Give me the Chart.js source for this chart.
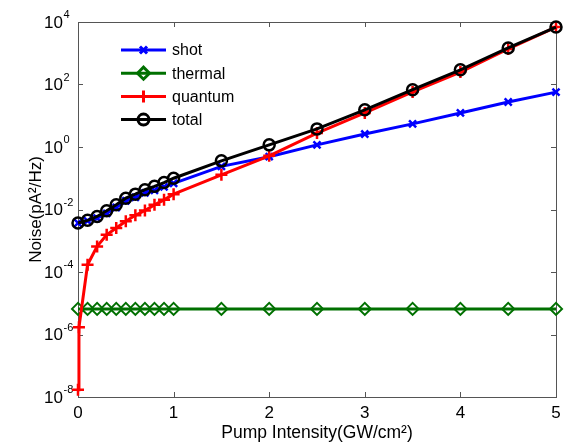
<!DOCTYPE html>
<html>
<head>
<meta charset="utf-8">
<script src="https://cdn.jsdelivr.net/npm/chart.js@4.4.0/dist/chart.umd.min.js"></script>
<style>
html, body { margin: 0; padding: 0; background: #fff; }
</style>
</head>
<body>
<canvas id="chart" width="576" height="447"></canvas>
<script>
const pumpX = [0, 0.1, 0.2, 0.3, 0.4, 0.5, 0.6, 0.7, 0.8, 0.9, 1.0, 1.5, 2, 2.5, 3, 3.5, 4, 4.5, 5];
const quantumX = [0, 0.01, 0.1, 0.2, 0.3, 0.4, 0.5, 0.6, 0.7, 0.8, 0.9, 1.0, 1.5, 2, 2.5, 3, 3.5, 4, 4.5, 5];

const shotNoise = [3.7e-3, 4.3e-3, 5.3e-3, 7.5e-3, 1.16e-2, 1.9e-2, 2.45e-2, 3.4e-2, 4.1e-2, 5.3e-2, 6.9e-2, 0.24, 0.49, 1.17, 2.6, 5.5, 12.3, 27.5, 57];
const thermalNoise = [6.6e-6, 6.6e-6, 6.6e-6, 6.6e-6, 6.6e-6, 6.6e-6, 6.6e-6, 6.6e-6, 6.6e-6, 6.6e-6, 6.6e-6, 6.6e-6, 6.6e-6, 6.6e-6, 6.6e-6, 6.6e-6, 6.6e-6, 6.6e-6, 6.6e-6];
const quantumNoise = [1.7e-8, 1.7e-6, 1.7e-4, 6.6e-4, 1.55e-3, 2.55e-3, 4.2e-3, 6.5e-3, 9.3e-3, 1.41e-2, 2.04e-2, 3.1e-2, 0.129, 0.52, 2.8, 12.3, 58, 250, 1370, 6900];
const totalNoise = [3.7e-3, 4.5e-3, 6.0e-3, 9.1e-3, 1.42e-2, 2.3e-2, 3.1e-2, 4.3e-2, 5.5e-2, 7.3e-2, 0.10, 0.36, 1.17, 3.8, 15.5, 68, 295, 1480, 6900];

const xTicks = [0, 1, 2, 3, 4, 5];
const yTicks = [1e-8, 1e-6, 1e-4, 1e-2, 1, 1e2, 1e4];

const FONT = "'Liberation Sans', Arial, sans-serif";

function pts(xs, ys) {
    return xs.map((x, i) => ({ x: x, y: ys[i] }));
}

// box, inward tick marks and 10^n tick labels
const frame = {
    id: 'frame',
    beforeDatasetsDraw(chart) {
        const { ctx, chartArea: a, scales } = chart;
        ctx.save();
        ctx.strokeStyle = '#555555';
        ctx.lineWidth = 1;
        ctx.strokeRect(a.left + 0.5, a.top + 0.5, a.right - a.left, a.bottom - a.top);
        ctx.beginPath();
        xTicks.forEach(v => {
            const px = Math.round(scales.x.getPixelForValue(v)) + 0.5;
            ctx.moveTo(px, a.bottom); ctx.lineTo(px, a.bottom - 5);
            ctx.moveTo(px, a.top); ctx.lineTo(px, a.top + 5);
        });
        yTicks.forEach(v => {
            const py = Math.round(scales.y.getPixelForValue(v)) + 0.5;
            ctx.moveTo(a.left, py); ctx.lineTo(a.left + 5, py);
            ctx.moveTo(a.right, py); ctx.lineTo(a.right - 5, py);
        });
        ctx.stroke();

        ctx.fillStyle = '#000';
        ctx.textAlign = 'left';
        ctx.textBaseline = 'middle';
        yTicks.forEach(v => {
            const py = scales.y.getPixelForValue(v);
            const e = Math.round(Math.log10(v));
            ctx.font = '17px ' + FONT;
            ctx.fillText('10', 44, py + 1);
            ctx.font = '11px ' + FONT;
            ctx.fillText(String(e), 63.5, py - 7);
        });
        ctx.restore();
    }
};

const lineLegend = {
    id: 'lineLegend',
    afterDraw(chart) {
        const ctx = chart.ctx;
        const x0 = 121, x1 = 166, top = 50, step = 23.2;
        ctx.save();
        chart.data.datasets.forEach((ds, i) => {
            const y = top + i * step;
            ctx.strokeStyle = ds.borderColor;
            ctx.lineWidth = ds.borderWidth;
            ctx.beginPath();
            ctx.moveTo(x0, y); ctx.lineTo(x1, y);
            ctx.stroke();
            ctx.strokeStyle = ds.pointBorderColor;
            ctx.fillStyle = ds.pointBackgroundColor;
            Chart.helpers.drawPoint(ctx, {
                pointStyle: ds.pointStyle,
                radius: ds.pointRadius,
                rotation: 0,
                borderWidth: ds.pointBorderWidth
            }, (x0 + x1) / 2, y);
            ctx.fillStyle = '#000';
            ctx.font = '16px ' + FONT;
            ctx.textBaseline = 'middle';
            ctx.textAlign = 'left';
            ctx.fillText(ds.label, 172, y + 1);
        });
        ctx.restore();
    }
};

new Chart(document.getElementById('chart'), {
    type: 'scatter',
    data: {
        datasets: [
            {
                label: 'shot',
                data: pts(pumpX, shotNoise),
                showLine: true,
                borderColor: '#0000ff',
                borderWidth: 3,
                pointStyle: 'crossRot',
                pointRadius: 5,
                pointBorderColor: '#0000ff',
                pointBackgroundColor: '#0000ff',
                pointBorderWidth: 2.5,
                clip: false,
                order: 4
            },
            {
                label: 'thermal',
                data: pts(pumpX, thermalNoise),
                showLine: true,
                borderColor: '#007000',
                borderWidth: 3,
                pointStyle: 'rectRot',
                pointRadius: 6,
                pointBorderColor: '#007000',
                pointBackgroundColor: 'rgba(255,255,255,0)',
                pointBorderWidth: 2,
                clip: false,
                order: 3
            },
            {
                label: 'quantum',
                data: pts(quantumX, quantumNoise),
                showLine: true,
                borderColor: '#ff0000',
                borderWidth: 3,
                pointStyle: 'cross',
                pointRadius: 6,
                pointBorderColor: '#ff0000',
                pointBackgroundColor: '#ff0000',
                pointBorderWidth: 2.5,
                clip: false,
                order: 2
            },
            {
                label: 'total',
                data: pts(pumpX, totalNoise),
                showLine: true,
                borderColor: '#000000',
                borderWidth: 3,
                pointStyle: 'circle',
                pointRadius: 5.5,
                pointBorderColor: '#000000',
                pointBackgroundColor: 'rgba(255,255,255,0)',
                pointBorderWidth: 2.5,
                clip: false,
                order: 1
            }
        ]
    },
    options: {
        responsive: false,
        animation: false,
        layout: { padding: { top: 22, right: 20, left: 0, bottom: 0 } },
        plugins: {
            legend: { display: false },
            tooltip: { enabled: false }
        },
        scales: {
            x: {
                type: 'linear',
                min: 0,
                max: 5,
                afterFit: s => { s.height = 50; },
                afterBuildTicks: s => { s.ticks = xTicks.map(v => ({ value: v })); },
                grid: { display: false, drawTicks: false },
                border: { display: false },
                ticks: { color: '#000', padding: 6, font: { family: FONT, size: 17 } },
                title: {
                    display: true,
                    text: 'Pump Intensity(GW/cm\u00B2)',
                    color: '#000',
                    padding: { top: 0, bottom: 3 },
                    font: { family: FONT, size: 17.5 }
                }
            },
            y: {
                type: 'logarithmic',
                min: 1e-8,
                max: 1e4,
                afterFit: s => { s.width = 78; },
                afterBuildTicks: s => { s.ticks = yTicks.map(v => ({ value: v })); },
                grid: { display: false, drawTicks: false },
                border: { display: false },
                ticks: { display: false },
                title: {
                    display: true,
                    text: 'Noise(pA\u00B2/Hz)',
                    color: '#000',
                    padding: { top: 26, bottom: 0 },
                    font: { family: FONT, size: 17 }
                }
            }
        }
    },
    plugins: [frame, lineLegend]
});
</script>
</body>
</html>
